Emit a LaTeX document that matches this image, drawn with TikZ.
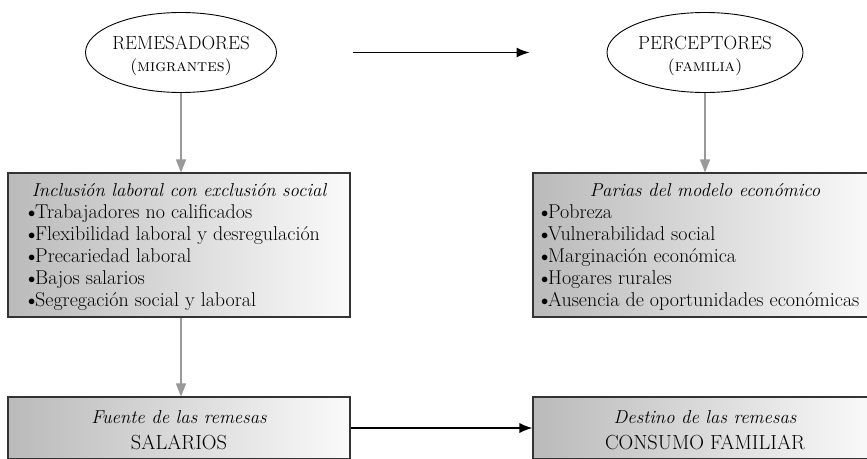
\documentclass[tikz,border=0pt]{standalone}
\usetikzlibrary{shapes.geometric,arrows.meta}
\newcommand{\bul}{\makebox[7pt][c]{\raisebox{1pt}{\fontsize{14}{14}\selectfont$\bullet$}}}
\tikzset{
  oval/.style={ellipse, draw=black, line width=0.9pt, minimum height=80pt, inner sep=0pt},
  panel/.style={rectangle, draw=black!80, line width=1.1pt, left color=black!27, right color=black!2, minimum width=342pt, inner sep=0pt},
  grayarrow/.style={draw=black!40, line width=1.2pt, -{Triangle[length=13pt,width=10pt]}},
  blackarrow/.style={draw=black, line width=1.3pt, -{Latex[length=13pt,width=10pt]}},
  bigname/.style={font=\fontsize{19}{22}\selectfont, inner sep=0pt, anchor=base},
  smallname/.style={font=\fontsize{17}{18}\selectfont\scshape, inner sep=0pt, anchor=base},
  titletext/.style={font=\fontsize{18.7}{22}\selectfont\itshape, inner sep=0pt, anchor=base},
  listtext/.style={font=\fontsize{20}{22}\selectfont, inner sep=0pt, anchor=north west, align=left},
  captext/.style={font=\fontsize{20.4}{22}\selectfont, inner sep=0pt, anchor=base}
}
\begin{document}
\begin{tikzpicture}[x=1pt,y=-1pt]
\useasboundingbox (0,0) rectangle (867,458);
\clip (0,0) rectangle (867,458);

% ellipses
\node[oval, minimum width=191pt] (rem) at (181,52.5) {};
\node[bigname] (remA) at (181,49.5) {REMESADORES};
\node[smallname] (remB) at (181,71.5) {(migrantes)};

\node[oval, minimum width=196pt] (per) at (705,52.5) {};
\node[bigname] (perA) at (705,49.5) {PERCEPTORES};
\node[smallname] (perB) at (705,71.5) {(familia)};

% middle panels
\node[panel, minimum height=144pt] (incl) at (179,245) {};
\node[titletext] (inclT) at (179,196) {Inclusión laboral con exclusión social};
\node[listtext] (inclL) at (28,204) {\bul Trabajadores no calificados\\
\bul Flexibilidad laboral y desregulación\\
\bul Precariedad laboral\\
\bul Bajos salarios\\
\bul Segregación social y laboral};

\node[panel, minimum height=144pt] (par) at (704,245) {};
\node[titletext] (parT) at (705,196) {Parias del modelo económico};
\node[listtext] (parL) at (541,204) {\bul Pobreza\\
\bul Vulnerabilidad social\\
\bul Marginación económica\\
\bul Hogares rurales\\
\bul Ausencia de oportunidades económicas};

% bottom panels
\node[panel, minimum height=62pt] (fue) at (179,428) {};
\node[titletext] (fueT) at (179,423) {Fuente de las remesas};
\node[captext] (fueC) at (179,449) {SALARIOS};

\node[panel, minimum height=62pt] (des) at (704,428) {};
\node[titletext] (desT) at (705,423) {Destino de las remesas};
\node[captext] (desC) at (705,449) {CONSUMO FAMILIAR};

% connectors
\draw[blackarrow, shorten <=76pt, shorten >=77pt] (rem.east) -- (per.west);
\draw[grayarrow] (rem.south) -- (rem.south |- incl.north);
\draw[grayarrow] (per.south) -- (per.south |- par.north);
\draw[grayarrow] (incl.south -| rem.south) -- (fue.north -| rem.south);
\draw[blackarrow] (fue.east) -- (des.west);
\end{tikzpicture}
\end{document}
